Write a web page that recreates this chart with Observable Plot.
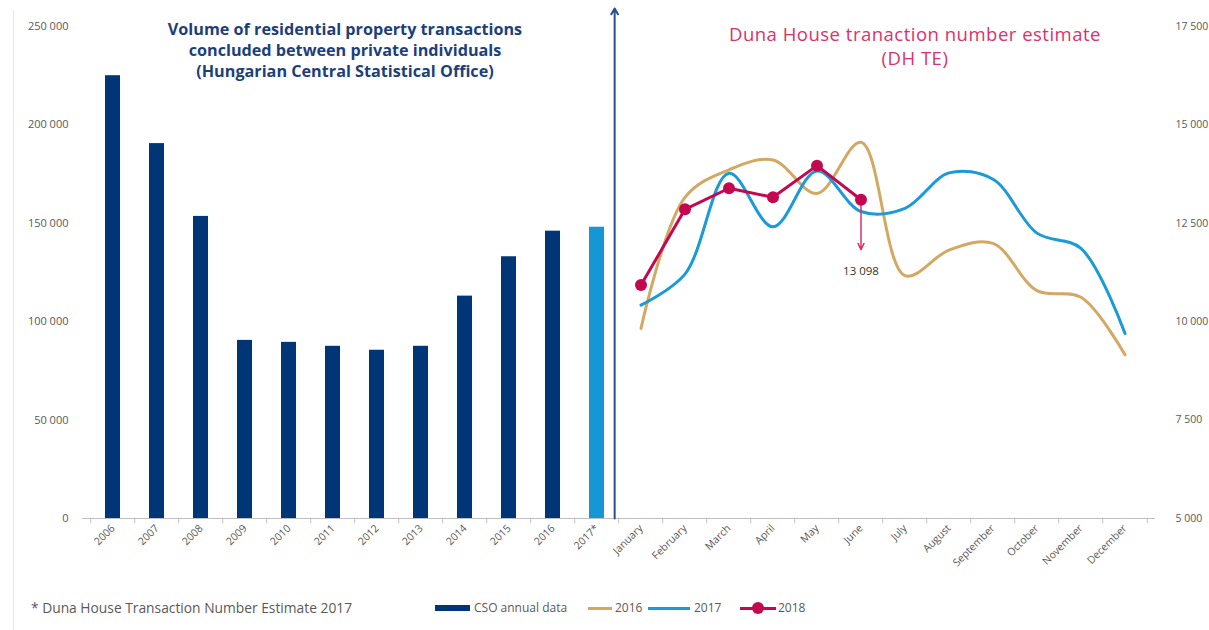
<!DOCTYPE html>
<html><head><meta charset="utf-8">
<script src="https://cdn.jsdelivr.net/npm/d3@7"></script>
<script src="https://cdn.jsdelivr.net/npm/@observablehq/plot@0.6"></script>
<style>
body{margin:0;background:#fff;font-family:"Open Sans",Lato,sans-serif}
#wrap{position:relative;width:1209px;height:630px;overflow:hidden}
#frame{position:absolute;left:13px;top:10px;width:1px;height:620px;background:#e6e6e6}
#chart{position:absolute;left:0;top:0}
.t-left{position:absolute;left:135px;width:420px;text-align:center;font-weight:700;font-size:16.2px;line-height:20px;color:#1c3f7c;white-space:nowrap}
.t-right{position:absolute;left:700px;width:430px;text-align:center;font-size:18.5px;color:#d8336c;letter-spacing:0.5px;white-space:nowrap;line-height:22px}
#legend{position:absolute;top:600px;left:0;width:1209px;height:20px;font-size:12px;color:#595959}
#legend span{position:absolute;top:0;white-space:nowrap;line-height:16px}
.sw{position:absolute}
</style></head><body>
<div id="wrap">
  <div id="frame"></div>
  <div id="chart"></div>
  <div class="t-left" style="top:19px">Volume of residential property transactions</div>
  <div class="t-left" style="top:40px">concluded between private individuals</div>
  <div class="t-left" style="top:61px">(Hungarian Central Statistical Office)</div>
  <div class="t-right" style="top:23px">Duna House tranaction number estimate</div>
  <div class="t-right" style="top:47px">(DH TE)</div>
  <div id="legend"></div>
</div>
<script>
// ---- data ----
const years = ["2006","2007","2008","2009","2010","2011","2012","2013","2014","2015","2016","2017*"];
const csoValues = [225000, 190500, 153500, 90500, 89500, 87500, 85500, 87500, 113000, 133000, 146000, 148000];
const estimateYear = "2017*";
const months = ["January","February","March","April","May","June","July","August","September","October","November","December"];
const dh2016 = [9830, 13160, 13860, 14110, 13260, 14560, 11170, 11820, 11990, 10790, 10620, 9160];
const dh2017 = [10420, 11210, 13770, 12410, 13830, 12800, 12880, 13780, 13620, 12250, 11860, 9700];
const dh2018 = [10930, 12856, 13390, 13161, 13965, 13098];
const leftTicks = [0, 50000, 100000, 150000, 200000, 250000];
const rightTicks = [5000, 7500, 10000, 12500, 15000, 17500];
const calloutMonth = "June";
const calloutValue = 13098;
const legendItems = ["CSO annual data", "2016", "2017", "2018"];
const footnote = "* Duna House Transaction Number Estimate 2017";

// ---- layout ----
const W = 1209, H = 590, mL = 82, mR = 54, mT = 26, mB = 72;
const categories = years.concat(months);
const step = (W - mL - mR) / categories.length;
const rightMin = rightTicks[0], rightMax = rightTicks[rightTicks.length - 1];
const leftMax = leftTicks[leftTicks.length - 1];
const toLeft = v => (v - rightMin) * leftMax / (rightMax - rightMin);
const fmt = d3.formatLocale({thousands: " ", grouping: [3], decimal: ",", currency: ["", ""]}).format(",");

const colNavy = "#003576", colLight = "#1696d3", colBlue = "#1a9bd7", colGold = "#d4a862", colRed = "#c4084f", colPink = "#d8336c", colGray = "#595959";

const bars = years.map((y, i) => ({cat: y, value: csoValues[i], est: y === estimateYear}));
const s16 = months.map((m, i) => ({cat: m, v: toLeft(dh2016[i])}));
const s17 = months.map((m, i) => ({cat: m, v: toLeft(dh2017[i])}));
const s18 = dh2018.map((v, i) => ({cat: months[i], v: toLeft(v)}));
const pxPerUnit = (H - mT - mB) / leftMax;

const chart = Plot.plot({
  width: W, height: H,
  marginLeft: mL, marginRight: mR, marginTop: mT, marginBottom: mB,
  style: {fontFamily: "'Open Sans', Lato, sans-serif", fontSize: "10px", color: colGray, background: "transparent"},
  x: {type: "band", domain: categories, paddingInner: 0.66, paddingOuter: 0.33, label: null},
  y: {domain: [0, leftMax], label: null},
  marks: [
    Plot.ruleY([0], {stroke: "#bfbfbf", strokeWidth: 1}),
    Plot.ruleX(categories, {x: d => d, y1: 0, y2: -5 / pxPerUnit, dx: -step / 2, stroke: "#bfbfbf"}),
    Plot.ruleX([categories[categories.length - 1]], {x: d => d, y1: 0, y2: -5 / pxPerUnit, dx: step / 2, stroke: "#bfbfbf"}),
    Plot.axisY({anchor: "left", ticks: leftTicks, tickSize: 0, tickPadding: 14, tickFormat: fmt, fontSize: 11, fill: colGray, label: null}),
    Plot.axisY({anchor: "right", ticks: leftTicks, tickSize: 0, tickPadding: 20, tickFormat: d => fmt(rightMin + d * (rightMax - rightMin) / leftMax), fontSize: 10.5, fill: colGray, label: null}),
    Plot.axisX({tickSize: 0, tickRotate: -45, tickPadding: 8, fontSize: 10.5, fill: colGray, label: null}),
    Plot.barY(bars, {x: "cat", y: "value", fill: d => d.est ? colLight : colNavy}),
    Plot.arrow([0], {x1: () => "January", x2: () => "January", y1: 0, y2: 510 / pxPerUnit, dx: -step / 2 - 4, stroke: "#2a4f8f", strokeWidth: 2, headLength: 5}),
    Plot.line(s16, {x: "cat", y: "v", curve: "catmull-rom", stroke: colGold, strokeWidth: 3}),
    Plot.line(s17, {x: "cat", y: "v", curve: "catmull-rom", stroke: colBlue, strokeWidth: 3}),
    Plot.arrow([calloutValue], {x1: () => calloutMonth, x2: () => calloutMonth, y1: d => toLeft(d), y2: d => toLeft(d) - 50 / pxPerUnit, stroke: colPink, strokeWidth: 1.5, headLength: 7, headAngle: 50}),
    Plot.line(s18, {x: "cat", y: "v", stroke: colRed, strokeWidth: 3}),
    Plot.dot(s18, {x: "cat", y: "v", r: 6, fill: colRed}),
    Plot.text([calloutValue], {x: () => calloutMonth, y: d => toLeft(d) - 50 / pxPerUnit, dy: 22, text: d => fmt(d), fill: "#333", fontSize: 11.5})
  ]
});
document.getElementById("chart").appendChild(chart);

// ---- legend ----
const lg = document.getElementById("legend");
lg.innerHTML = `
<span style="left:31px;font-size:13.8px">${footnote}</span>
<div class="sw" style="left:435px;top:5px;width:35px;height:6px;background:${colNavy}"></div>
<span style="left:474px">${legendItems[0]}</span>
<div class="sw" style="left:588px;top:7px;width:24px;height:3px;background:${colGold}"></div>
<span style="left:615px">${legendItems[1]}</span>
<div class="sw" style="left:648px;top:7px;width:42px;height:3px;background:${colBlue}"></div>
<span style="left:694px">${legendItems[2]}</span>
<div class="sw" style="left:740px;top:7px;width:36px;height:3px;background:${colRed}"></div>
<div class="sw" style="left:752px;top:2px;width:12px;height:12px;border-radius:50%;background:${colRed}"></div>
<span style="left:778px">${legendItems[3]}</span>`;
</script>
</body></html>
